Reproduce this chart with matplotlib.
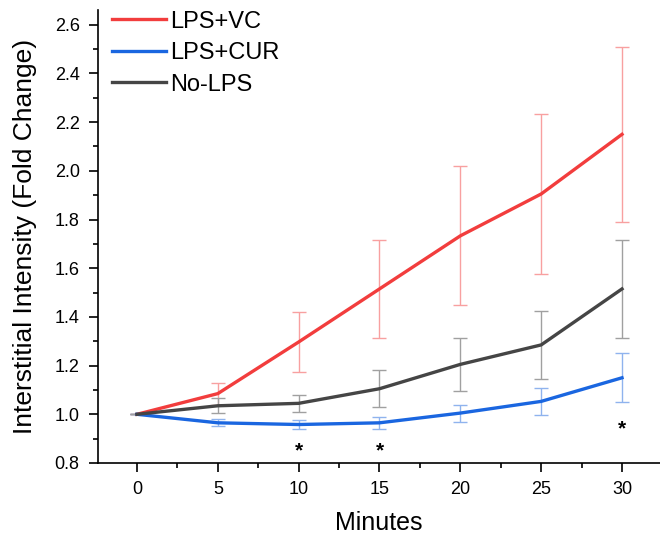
import numpy as np
import matplotlib
matplotlib.use('Agg')
import matplotlib.pyplot as plt
from matplotlib.ticker import MultipleLocator, FormatStrFormatter

plt.rcParams['font.family'] = ['Liberation Sans', 'DejaVu Sans']

minutes = [0, 5, 10, 15, 20, 25, 30]

vc_mean = [1.0, 1.085, 1.297, 1.515, 1.733, 1.905, 2.15]
vc_err = [0, 0.045, 0.123, 0.2, 0.285, 0.33, 0.36]

cur_mean = [1.0, 0.965, 0.958, 0.965, 1.005, 1.053, 1.15]
cur_err = [0, 0.015, 0.02, 0.025, 0.035, 0.055, 0.1]

nolps_mean = [1.0, 1.035, 1.045, 1.105, 1.205, 1.285, 1.515]
nolps_err = [0, 0.03, 0.035, 0.075, 0.11, 0.14, 0.2]

# significance marks (baseline positions)
star_x = [10, 15, 30]
star_y = [0.828, 0.828, 0.918]

red = '#f23d3d'
blue = '#1a66e0'
grey = '#454545'

fig = plt.figure(figsize=(6.6, 5.35), dpi=100)
ax = fig.add_axes([0.1485, 0.1346, 0.8515, 0.8464])

series = [
    ('LPS+VC', vc_mean, vc_err, red, '#f8a0a0'),
    ('LPS+CUR', cur_mean, cur_err, blue, '#8fb3ee'),
    ('No-LPS', nolps_mean, nolps_err, grey, '#a0a0a0'),
]
for name, m, e, c, ec in series:
    ax.errorbar(minutes, m, yerr=e, fmt='none', ecolor=ec, elinewidth=1,
                capsize=5, capthick=1, zorder=2)
for name, m, e, c, ec in series:
    ax.plot(minutes, m, color=c, lw=2.4, label=name, zorder=3)

for sx, sy in zip(star_x, star_y):
    ax.text(sx, sy, '*', ha='center', va='baseline', fontsize=15,
            fontweight='bold', color='black')

ax.set_xlim(-2.41, 32.35)
ax.set_ylim(0.8, 2.66)
ax.xaxis.set_major_locator(MultipleLocator(5))
ax.xaxis.set_minor_locator(MultipleLocator(2.5))
ax.yaxis.set_major_locator(MultipleLocator(0.2))
ax.yaxis.set_minor_locator(MultipleLocator(0.1))
ax.yaxis.set_major_formatter(FormatStrFormatter('%.1f'))

ax.spines['top'].set_visible(False)
ax.spines['right'].set_visible(False)
for s in ['left', 'bottom']:
    ax.spines[s].set_linewidth(1.2)
ax.tick_params(which='major', direction='out', length=6.2, width=1.2, labelsize=13)
ax.tick_params(which='minor', direction='out', length=3.3, width=1.2)
ax.tick_params(axis='x', which='major', pad=7)
ax.tick_params(axis='y', which='major', pad=7)

ax.set_xlabel('Minutes', fontsize=18, labelpad=9)
ax.set_ylabel('Interstitial Intensity (Fold Change)', fontsize=19, labelpad=13)

ax.legend(loc='upper left', frameon=False, fontsize=17, handlelength=2.3,
          handletextpad=0.15, labelspacing=0.4, borderaxespad=0.2,
          bbox_to_anchor=(0.0, 1.03))

fig.savefig('out.png', dpi=100)
